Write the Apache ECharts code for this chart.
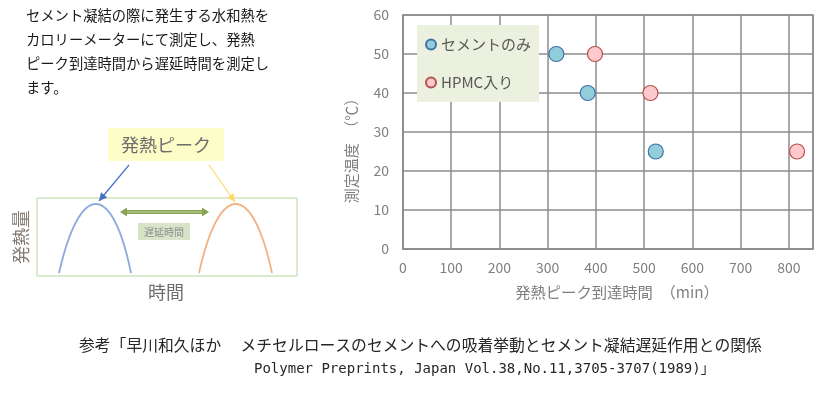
<!DOCTYPE html>
<html>
<head>
<meta charset="utf-8">
<script src="https://cdn.jsdelivr.net/npm/echarts@6/dist/echarts.min.js"></script>
<style>
  html, body { margin: 0; padding: 0; background: #fff; }
  #chart { width: 840px; height: 399px; }
</style>
</head>
<body>
<div id="chart"></div>
<script>
// data
const seriesNames = ['セメントのみ', 'HPMC入り']
const cementTime = [318, 383, 524]
const cementTemp = [50, 40, 25]
const hpmcTime = [398, 513, 817]
const hpmcTemp = [50, 40, 25]

const descLines = [
  'セメント凝結の際に発生する水和熱を',
  'カロリーメーターにて測定し、発熱',
  'ピーク到達時間から遅延時間を測定し',
  'ます。'
]
const citeLine1 = '参考「早川和久ほか　 メチセルロースのセメントへの吸着挙動とセメント凝結遅延作用との関係'
const citeLine2 = 'Polymer Preprints, Japan Vol.38,No.11,3705-3707(1989)」'

const FONT = '"Noto Sans CJK JP", "Noto Sans", sans-serif'
const GRAY = '#7f7f7f'
const GRID_LINE = '#8c8c8c'

function pairs (xs, ys) {
  return xs.map((x, i) => [x, ys[i]])
}

// small arrowhead polygon at the end of a line (illustration only)
function arrowHead (x1, y1, x2, y2, len, half) {
  let a = Math.atan2(y2 - y1, x2 - x1)
  let bx = x2 - len * Math.cos(a)
  let by = y2 - len * Math.sin(a)
  let nx = -Math.sin(a) * half
  let ny = Math.cos(a) * half
  return [[x2, y2], [bx + nx, by + ny], [bx - nx, by - ny]]
}

function arrow (x1, y1, x2, y2, color) {
  return [{
    type: 'line',
    shape: { x1: x1, y1: y1, x2: x2, y2: y2 },
    style: { stroke: color, lineWidth: 1.2 }
  }, {
    type: 'polygon',
    shape: { points: arrowHead(x1, y1, x2, y2, 8, 4) },
    style: { fill: color }
  }]
}

function hump (x0, xp, x1, yBase, yPeak, color) {
  let c = (yPeak - 0.25 * yBase) / 0.75
  return {
    type: 'bezierCurve',
    shape: {
      x1: x0, y1: yBase, x2: x1, y2: yBase,
      cpx1: xp - (xp - x0) * 0.45, cpy1: c,
      cpx2: xp + (x1 - xp) * 0.45, cpy2: c
    },
    style: { stroke: color, lineWidth: 1.8, fill: null }
  }
}

let graphics = []

// description text
graphics.push({
  type: 'text', left: 26, top: 4,
  style: {
    text: descLines.join('\n'),
    font: '14.3px ' + FONT,
    lineHeight: 24,
    fill: '#1a1a1a'
  }
})

// diagram
graphics.push({
  type: 'rect', shape: { x: 37, y: 198, width: 260, height: 78 },
  style: { stroke: '#b5d69c', fill: null, lineWidth: 1 }
})
graphics.push(hump(59, 97, 131, 273, 204, '#8faadc'))
graphics.push(hump(199, 236, 272, 273, 204, '#f4b183'))
graphics.push({
  type: 'rect', shape: { x: 108, y: 128, width: 116, height: 33 },
  style: { fill: '#fdfdc8' }
})
graphics.push({
  type: 'text', x: 166, y: 145,
  style: { text: '発熱ピーク', font: '18px ' + FONT, fill: '#6d6d6d', align: 'center', verticalAlign: 'middle' }
})
graphics = graphics.concat(arrow(129, 165, 99, 201, '#4472c4'))
graphics = graphics.concat(arrow(209, 165, 235, 202, '#ffd966'))

// double headed delay arrow
graphics.push({
  type: 'line', shape: { x1: 126, y1: 212, x2: 203, y2: 212 },
  style: { stroke: '#86a453', lineWidth: 4 }
})
graphics.push({
  type: 'line', shape: { x1: 126, y1: 212, x2: 203, y2: 212 },
  style: { stroke: '#c4d8a2', lineWidth: 1.2 }
})
graphics.push({
  type: 'polygon', shape: { points: arrowHead(200, 212, 120, 212, 7, 4.5) },
  style: { fill: '#86a453' }
})
graphics.push({
  type: 'polygon', shape: { points: arrowHead(129, 212, 209, 212, 7, 4.5) },
  style: { fill: '#86a453' }
})
graphics.push({
  type: 'rect', shape: { x: 138, y: 223, width: 52, height: 17 },
  style: { fill: '#d8e4c8' }
})
graphics.push({
  type: 'text', x: 164, y: 232,
  style: { text: '遅延時間', font: '10px ' + FONT, fill: '#8c8c8c', align: 'center', verticalAlign: 'middle' }
})
graphics.push({
  type: 'text', x: 21, y: 237, rotation: Math.PI / 2,
  style: { text: '発熱量', font: '18px ' + FONT, fill: '#857b73', align: 'center', verticalAlign: 'middle' }
})
graphics.push({
  type: 'text', x: 166, y: 292,
  style: { text: '時間', font: '18px ' + FONT, fill: '#6d6d6d', align: 'center', verticalAlign: 'middle' }
})

// axis names
graphics.push({
  type: 'text', x: 351, y: 147, rotation: Math.PI / 2,
  style: { text: '測定温度　（℃）', font: '15px ' + FONT, fill: GRAY, align: 'center', verticalAlign: 'middle' }
})
graphics.push({
  type: 'text', x: 617, y: 292,
  style: { text: '発熱ピーク到達時間　（min）', font: '15.3px ' + FONT, fill: GRAY, align: 'center', verticalAlign: 'middle' }
})

// citation
graphics.push({
  type: 'text', x: 79, y: 345,
  style: { text: citeLine1, font: '15.8px ' + FONT, fill: '#262626', align: 'left', verticalAlign: 'middle' }
})
graphics.push({
  type: 'text', x: 254, y: 369,
  style: { text: citeLine2, font: '14px "DejaVu Sans Mono", "Noto Sans CJK JP", monospace', fill: '#262626', align: 'left', verticalAlign: 'middle' }
})

let chart = echarts.init(document.getElementById('chart'), null, { renderer: 'canvas' })
chart.setOption({
  animation: false,
  textStyle: { fontFamily: FONT },
  grid: {
    left: 403, right: 27, top: 15, bottom: 150,
    show: true, borderColor: GRID_LINE, borderWidth: 1.5
  },
  legend: {
    left: 417, top: 25,
    orient: 'vertical',
    backgroundColor: '#ebf1de',
    padding: [12, 8, 12, 8],
    itemGap: 23,
    itemWidth: 10,
    itemHeight: 10,
    icon: 'circle',
    textStyle: { fontSize: 15, color: '#595959', fontFamily: FONT },
    data: seriesNames
  },
  xAxis: {
    type: 'value',
    min: 0, max: 850, interval: 100,
    axisLine: { show: true, lineStyle: { color: GRID_LINE, width: 1.5 } },
    axisTick: { show: false },
    splitLine: { show: true, lineStyle: { color: GRID_LINE, width: 1.5 } },
    axisLabel: { color: GRAY, fontSize: 14, margin: 12, showMaxLabel: false }
  },
  yAxis: {
    type: 'value',
    min: 0, max: 60, interval: 10,
    axisLine: { show: true, lineStyle: { color: GRID_LINE, width: 1.5 } },
    axisTick: { show: false },
    splitLine: { show: true, lineStyle: { color: GRID_LINE, width: 1.5 } },
    axisLabel: { color: GRAY, fontSize: 14, margin: 14 }
  },
  series: [{
    name: seriesNames[0],
    type: 'scatter',
    symbolSize: 15,
    itemStyle: { color: '#92cddc', borderColor: '#3f72a8', borderWidth: 1.2, opacity: 1 },
    data: pairs(cementTime, cementTemp)
  }, {
    name: seriesNames[1],
    type: 'scatter',
    symbolSize: 15,
    itemStyle: { color: '#fdc9cc', borderColor: '#b5504d', borderWidth: 1.2, opacity: 1 },
    data: pairs(hpmcTime, hpmcTemp)
  }],
  graphic: graphics
})
</script>
</body>
</html>
